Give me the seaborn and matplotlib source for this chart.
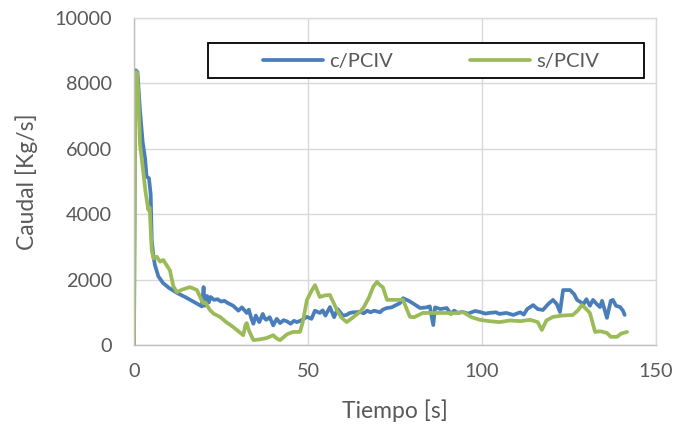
import matplotlib
matplotlib.use("Agg")
import matplotlib.pyplot as plt
import seaborn as sns
import pandas as pd
from matplotlib.patches import Rectangle
from matplotlib.lines import Line2D

# ---- data ----
t_c = [0, 0.3, 0.5, 1.0, 1.7, 2.5, 3.2, 3.6, 4.3, 4.8, 5.1, 5.6, 6.0, 7.0, 8.3, 10, 12.4,
       15, 17, 19.5, 20, 20.3, 21, 21.5, 22, 23, 24, 25, 26, 27, 28.5, 29.5, 30, 31, 32.4,
       33, 33.6, 34.3, 35, 35.6, 36, 37, 37.5, 38, 39, 40, 41, 42, 43, 44, 45, 46, 46.8, 48,
       49.7, 51, 52, 53.4, 54.2, 55, 56.3, 57.5, 58.5, 60, 61.1, 62, 63, 64.9, 66, 67, 68,
       69, 70.7, 71.5, 72.6, 74, 76.4, 77.3, 79, 80.5, 82.2, 84, 85, 86, 86.5, 88, 89.9, 91,
       92, 93, 94.5, 96, 97, 98, 99.4, 101, 102, 104, 105, 107, 109, 110, 111, 112, 113, 114.7,
       116, 117.5, 119, 120.4, 121.5, 122.4, 123.3, 125.3, 126.5, 127.3, 128.5, 129, 130,
       131, 131.9, 133, 133.9, 134.5, 135.9, 137, 137.6, 138.5, 139.7, 140.5, 141]
q_c = [0, 8300, 8400, 8350, 7200, 6200, 5700, 5150, 5100, 4600, 3200, 2700, 2450, 2100, 1900,
       1750, 1590, 1450, 1330, 1180, 1770, 1200, 1500, 1300, 1470, 1380, 1400, 1330, 1350,
       1280, 1200, 1100, 1050, 1150, 980, 1080, 850, 650, 900, 780, 700, 950, 820, 770, 850,
       600, 800, 670, 760, 720, 650, 740, 700, 750, 860, 800, 1050, 980, 1060, 900, 1160, 850,
       1100, 900, 920, 980, 1000, 1010, 970, 1050, 1000, 1050, 1000, 1080, 1130, 1150, 1280,
       1430, 1350, 1250, 1130, 1150, 1180, 610, 1150, 1100, 1130, 950, 1050, 980, 1010, 960,
       1000, 1040, 1010, 960, 980, 1000, 950, 980, 920, 960, 1000, 930, 1100, 1220, 1100, 1070,
       1250, 1380, 1250, 1010, 1680, 1680, 1550, 1380, 1300, 1220, 1400, 1200, 1380, 1250,
       1160, 1350, 830, 1350, 1380, 1200, 1160, 1050, 920]

t_s = [0, 0.4, 0.8, 1.2, 1.7, 2.6, 3.3, 4.1, 4.5, 5.1, 5.6, 6.5, 7.5, 8.4, 9.3, 10.3, 11.3,
       12.3, 14, 16.1, 17, 18.1, 19.2, 19.9, 20.5, 21.8, 23, 24.7, 26.5, 28.5, 30, 31.4, 32,
       32.4, 33, 34.3, 36, 38, 40, 41, 42, 44, 45.7, 47.7, 48.5, 49.7, 51, 52, 53.4, 55,
       56.3, 58.3, 59.5, 61.1, 63, 64.9, 66, 67.5, 68.7, 69.8, 70.7, 71.5, 72.7, 74, 76.4,
       77.3, 79.3, 80.5, 83, 86, 89.9, 92, 94.5, 97, 99.4, 102, 105, 108, 111, 113.8, 116,
       117.2, 118.5, 120.4, 123, 126.1, 127.5, 128.7, 129.5, 131, 132.5, 134, 135.9, 137,
       138.8, 140, 141.7]
q_s = [0, 8000, 8350, 7800, 6170, 5350, 4700, 4130, 4200, 2900, 2650, 2700, 2550, 2600, 2450,
       2290, 1800, 1620, 1700, 1770, 1730, 1680, 1420, 1280, 1300, 1070, 950, 860, 700, 550,
       420, 300, 600, 670, 450, 150, 170, 210, 300, 200, 150, 330, 400, 400, 700, 1380, 1650,
       1830, 1470, 1520, 1530, 1070, 850, 700, 850, 1010, 1150, 1450, 1770, 1930, 1830, 1770,
       1380, 1380, 1380, 1380, 860, 850, 980, 980, 980, 970, 1010, 850, 770, 730, 700, 750,
       730, 770, 700, 460, 750, 860, 900, 920, 1050, 1220, 1150, 980, 400, 420, 370, 250,
       250, 350, 400]

series_names = ["c/PCIV", "s/PCIV"]
x_ticks = [0, 50, 100, 150]
y_ticks = [0, 2000, 4000, 6000, 8000, 10000]

df = pd.concat([
    pd.DataFrame({"Tiempo": t_c, "Caudal": q_c, "serie": series_names[0]}),
    pd.DataFrame({"Tiempo": t_s, "Caudal": q_s, "serie": series_names[1]}),
], ignore_index=True)

sns.set_theme(style="white")
plt.rcParams["font.family"] = ["Lato", "DejaVu Sans"]

fig = plt.figure(figsize=(6.77, 4.30), dpi=100)
ax = fig.add_axes([134 / 677, 1 - 345 / 430, 522 / 677, 327 / 430])

colors = ["#4a7ebb", "#9bbb59"]
sns.lineplot(data=df, x="Tiempo", y="Caudal", hue="serie", hue_order=series_names,
             palette=colors, estimator=None, sort=False,
             linewidth=2.7, ax=ax, legend=False)

ax.set_xlim(0, 150)
ax.set_ylim(0, 10000)
ax.set_xticks(x_ticks)
ax.set_yticks(y_ticks)
ax.grid(True, color="#d9d9d9", linewidth=1.0)
ax.set_axisbelow(True)
for s in ["top", "right"]:
    ax.spines[s].set_color("#d9d9d9")
    ax.spines[s].set_linewidth(1.0)
for s in ["left", "bottom"]:
    ax.spines[s].set_color("#bfbfbf")
    ax.spines[s].set_linewidth(1.0)
ax.tick_params(axis="both", length=0, labelsize=14.3, colors="#595959")
ax.tick_params(axis="x", pad=13)
ax.tick_params(axis="y", pad=16)

ax.set_xlabel("Tiempo [s]", fontsize=16.5, color="#595959")
ax.set_ylabel("Caudal [Kg/s]", fontsize=16.5, color="#595959")
ax.xaxis.set_label_coords(0.5, -0.165)
ax.yaxis.set_label_coords(-0.184, 0.5)

# legend box
fig.add_artist(Rectangle((208 / 677, 1 - 78 / 430), 436 / 677, 35 / 430,
                         transform=fig.transFigure, facecolor="white",
                         edgecolor="black", linewidth=1.3, zorder=5))
handles = [Line2D([], [], color=colors[0], linewidth=2.7),
           Line2D([], [], color=colors[1], linewidth=2.7)]
leg = fig.legend(handles, series_names, loc="center", bbox_to_anchor=(431 / 677, 1 - 61 / 430),
                 ncol=2, frameon=False, fontsize=14.5, handlelength=3.0,
                 handletextpad=0.3, columnspacing=3.8, labelcolor="#595959")
leg.set_zorder(6)

fig.savefig("out.png", dpi=100)
